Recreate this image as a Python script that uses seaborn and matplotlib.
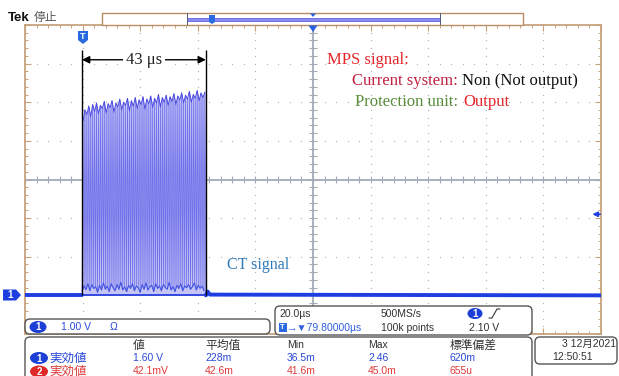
import numpy as np
import matplotlib
matplotlib.use("Agg")
import matplotlib.pyplot as plt
import seaborn as sns
from matplotlib.patches import FancyBboxPatch, Rectangle, Polygon, Ellipse
from matplotlib.transforms import Affine2D

# ---------------- data ----------------
time_per_div_us = 20.0
volts_per_div = 1.0
trigger_level_V = 2.10
burst_start_us = -80.2
burst_end_us = -37.2
burst_peaks_V = [
    4.50, 4.80, 4.68, 4.90, 4.62, 4.94, 4.76, 4.98, 4.70, 4.92, 4.84, 5.02, 4.72, 4.96, 4.86, 5.04,
    4.74, 4.98, 4.88, 5.08, 4.80, 5.00, 4.92, 5.10, 4.78, 5.04, 4.90, 5.12, 4.84, 5.06, 4.94, 5.14,
    4.82, 5.08, 4.96, 5.16, 4.86, 5.10, 4.98, 5.20, 4.88, 5.12, 5.00, 5.18, 4.92, 5.14, 5.02, 5.22,
    4.94, 5.16, 5.06, 5.24, 4.98, 5.18, 5.08, 5.28, 5.00, 5.20, 5.10, 5.30, 5.04, 5.24, 5.12, 5.26]
burst_troughs_V = [
    0.10, 0.25, 0.15, 0.30, 0.12, 0.28, 0.18, 0.22, 0.08, 0.26, 0.14, 0.32, 0.16, 0.24, 0.10, 0.30,
    0.20, 0.12, 0.28, 0.16, 0.34, 0.14, 0.22, 0.10, 0.26, 0.18, 0.30, 0.12, 0.24, 0.20, 0.08, 0.28,
    0.16, 0.32, 0.14, 0.22, 0.26, 0.10, 0.30, 0.18, 0.24, 0.12, 0.28, 0.20, 0.16, 0.34, 0.14, 0.22,
    0.10, 0.26, 0.18, 0.30, 0.12, 0.24, 0.20, 0.28, 0.16, 0.22, 0.32, 0.14, 0.26, 0.18, 0.24, 0.12]
pre_t_us = [-100.0, -80.2]
pre_v = [0.0, 0.0]
post_t_us = [-37.2, -36.6, -35.8, 100.0]
post_v = [0.0, 0.10, 0.02, 0.0]

meas_headers = ["値", "平均值", "Min", "Max", "標準偏差"]
meas_row1 = ["1.60 V", "228m", "36.5m", "2.46", "620m"]
meas_row2 = ["42.1mV", "42.6m", "41.6m", "45.0m", "655u"]

# ---------------- figure ----------------
sns.set_theme(style="white")
plt.rcParams['font.family'] = ['Liberation Sans', 'Noto Sans CJK JP', 'DejaVu Sans']
W, H = 619, 376
fig = plt.figure(figsize=(W / 100, H / 100), dpi=100)
fig.patch.set_facecolor('white')
pix = Affine2D().scale(1 / 100, -1 / 100).translate(0, H / 100) + fig.dpi_scale_trans
CJK = ['Noto Sans CJK JP', 'DejaVu Sans']
SERIF = ['Liberation Serif', 'DejaVu Serif']

ax = fig.add_axes([25 / W, 1 - 334 / H, 576 / W, 309 / H])
ax.set_facecolor('white')
xmin, xmax = -5 * time_per_div_us, 5 * time_per_div_us
ymin, ymax = -1.0, 7.0
ax.set_xlim(xmin, xmax)
ax.set_ylim(ymin, ymax)
center_y = 3.0

major_x = np.arange(xmin, xmax + 0.1, time_per_div_us)
minor_x = np.arange(xmin, xmax + 0.1, time_per_div_us / 5)
major_y = np.arange(ymin, ymax + 0.01, volts_per_div)
minor_y = np.arange(ymin, ymax + 0.01, volts_per_div / 5)

# graticule
grid_col = '#a9adb5'
for yv in major_y[1:-1]:
    if abs(yv - center_y) > 1e-6:
        ax.scatter(minor_x, np.full_like(minor_x, yv), s=0.8, color=grid_col, lw=0, zorder=1)
for xv in major_x[1:-1]:
    if abs(xv) > 1e-6:
        ax.scatter(np.full_like(minor_y, xv), minor_y, s=0.8, color=grid_col, lw=0, zorder=1)
ax.axhline(center_y, color='#a4aab8', lw=1.3, zorder=1)
ax.axvline(0, color='#a4aab8', lw=1.3, zorder=1)
ax.vlines(minor_x, center_y - 0.08, center_y + 0.08, color='#a4aab8', lw=0.8, zorder=1)
ax.hlines(minor_y, -1.3, 1.3, color='#a4aab8', lw=0.8, zorder=1)

ax.set_xticks(major_x)
ax.set_xticks(minor_x, minor=True)
ax.set_yticks(major_y)
ax.set_yticks(minor_y, minor=True)
ax.tick_params(which='both', direction='in', top=True, right=True, bottom=True, left=True,
               color='#c8a27c', labelbottom=False, labelleft=False)
ax.tick_params(which='major', length=4, width=0.8)
ax.tick_params(which='minor', length=2.5, width=0.7)
for sp in ax.spines.values():
    sp.set_color('#c8a27c')
    sp.set_linewidth(1.3)

# waveform
n = len(burst_peaks_V)
period = (burst_end_us - burst_start_us) / n
peak_t = [burst_start_us + (i + 0.5) * period for i in range(n)]
trough_t = [burst_start_us + (i + 0.05) * period for i in range(n)]
wave_t = [burst_start_us]
wave_v = [0.0]
for i in range(n):
    wave_t += [trough_t[i], peak_t[i]]
    wave_v += [burst_troughs_V[i], burst_peaks_V[i]]
wave_t.append(burst_end_us)
wave_v.append(0.0)

ax.fill_between(peak_t, 0, burst_peaks_V, color='#c4c5f6', lw=0, zorder=2)
sns.lineplot(x=wave_t, y=wave_v, ax=ax, estimator=None, sort=False,
             color='#7070ea', lw=0.55, zorder=3)
sns.lineplot(x=peak_t, y=burst_peaks_V, ax=ax, estimator=None, sort=False,
             color='#4848e0', lw=0.7, zorder=3)
sns.lineplot(x=trough_t, y=burst_troughs_V, ax=ax, estimator=None, sort=False,
             color='#4050e0', lw=0.8, zorder=3)
ax.plot([burst_start_us, burst_end_us], [0.0, 0.0], color='#3448e0', lw=1.4, zorder=3)
sns.lineplot(x=pre_t_us, y=pre_v, ax=ax, estimator=None, sort=False, color='#1e3ee2', lw=2.8, zorder=4)
sns.lineplot(x=post_t_us, y=post_v, ax=ax, estimator=None, sort=False, color='#1e3ee2', lw=2.8, zorder=4)

# 43 us annotation
ax.vlines([burst_start_us, burst_end_us], 0, 6.35, color='black', lw=1.0, zorder=5)
ax.annotate('', xy=(burst_start_us, 6.1), xytext=(burst_end_us, 6.1),
            arrowprops=dict(arrowstyle='<|-|>', color='black', lw=1.0, mutation_scale=11,
                            shrinkA=0, shrinkB=0), zorder=5)
ax.text((burst_start_us + burst_end_us) / 2, 6.1, '43 μs', ha='center', va='center',
        fontsize=12, family=SERIF, color='#222',
        bbox=dict(fc='white', ec='none', pad=2), zorder=6)

# trigger level marker (right)
ax.annotate('', xy=(xmax - 3.0, trigger_level_V), xytext=(xmax - 0.3, trigger_level_V),
            arrowprops=dict(arrowstyle='-|>', color='#1f3fe0', lw=1.3, mutation_scale=7,
                            shrinkA=0, shrinkB=0), zorder=6, annotation_clip=False)

# ---------------- texts on screen ----------------
def t(x, y, s, **kw):
    kw.setdefault('va', 'center')
    kw.setdefault('ha', 'left')
    fig.text(x, y, s, transform=pix, **kw)

t(327, 60, 'MPS signal:', fontsize=12, family=SERIF, color='#e5262b')
t(352, 81, 'Current system:', fontsize=12, family=SERIF, color='#c0203e')
t(462, 81, 'Non (Not output)', fontsize=12, family=SERIF, color='#111')
t(355, 102, 'Protection unit:', fontsize=12, family=SERIF, color='#5a8c3c')
t(463, 102, 'Output', fontsize=12, family=SERIF, color='#e5262b')
t(227, 265, 'CT signal', fontsize=11.5, family=SERIF, color='#2d78b6')

# header
t(8, 18, 'Tek', fontsize=9.5, fontweight='bold', color='#111')
t(34, 18, '停止', fontsize=8.5, family=CJK, color='#555')

# record bar
fig.add_artist(Rectangle((102, 13), 421, 12, transform=pix, fc='white', ec='#b98c62', lw=1.0))
fig.add_artist(Rectangle((187, 17.5), 253, 3, transform=pix, fc='#8a8af0', ec='#5050d8', lw=0.5))
fig.add_artist(Rectangle((186.5, 13), 1.2, 12, transform=pix, fc='#555a80', ec='none'))
fig.add_artist(Rectangle((439.5, 13), 1.2, 12, transform=pix, fc='#555a80', ec='none'))
fig.add_artist(Polygon([(310, 13.5), (316, 13.5), (313, 17)], transform=pix, fc='#2a5fe0', ec='none'))
fig.add_artist(Polygon([(209, 15), (215, 15), (215, 22), (212, 24), (209, 22)], transform=pix,
                       fc='#2a69e0', ec='none'))
# trigger position marker
fig.add_artist(Polygon([(308.5, 25.5), (317.5, 25.5), (313, 32)], transform=pix, fc='#2a5fe0', ec='none'))
# T badge
fig.add_artist(Polygon([(78, 31), (88, 31), (88, 40), (83, 44), (78, 40)], transform=pix,
                       fc='#2a69e0', ec='none'))
t(83, 36.5, 'T', ha='center', fontsize=6.5, fontweight='bold', color='white')
# channel 1 ground marker
fig.add_artist(Polygon([(3, 289.5), (16, 289.5), (21, 295), (16, 300.5), (3, 300.5)], transform=pix,
                       fc='#1e3ee2', ec='none'))
t(10, 295.5, '1', ha='center', fontsize=7, fontweight='bold', color='white')

# ---------------- bottom panels ----------------
def panel(x, y, w, h, ec='#555'):
    fig.add_artist(FancyBboxPatch((x, y), w, h, boxstyle='round,pad=0,rounding_size=5',
                                  transform=pix, fc='white', ec=ec, lw=1.0))

def badge(x, y, s, col, w=17, h=12):
    fig.add_artist(Ellipse((x, y), w, h, transform=pix, fc=col, ec='none'))
    t(x, y + 0.5, s, ha='center', fontsize=7, fontweight='bold', color='white')

blue = '#2a48d8'
red = '#e03a3a'
dark = '#333'

panel(25, 319, 245, 15)
badge(38, 327, '1', '#1c3fd6')
t(61, 327, '1.00 V', fontsize=7.5, color=blue)
t(110, 327, 'Ω', fontsize=7.5, color=blue)

panel(275, 306, 257, 29)
t(279, 314, '20.0µs', fontsize=7.5, color=dark)
t(381, 314, '500MS/s', fontsize=7.5, color=dark)
badge(475, 313.5, '1', '#1c3fd6', w=15, h=11)
fig.add_artist(plt.Line2D([489, 492, 497, 500], [318, 318, 309, 309], transform=pix,
                          color=dark, lw=0.8))
fig.add_artist(Rectangle((278.5, 323), 8, 9, transform=pix, fc='#2a69e0', ec='none'))
t(282.5, 327.8, 'T', ha='center', fontsize=5.5, fontweight='bold', color='white')
t(287, 328, '→▼79.80000µs', fontsize=7.5, color='#2f5fe0')
t(381, 328, '100k points', fontsize=7.5, color=dark)
t(469, 328, '2.10 V', fontsize=7.5, color=dark)

panel(25, 337, 507, 60)
col_x = [133, 205, 287, 368, 450]
for xh, s in zip(col_x, meas_headers):
    fam = CJK if any(ord(c) > 255 for c in s) else ['Liberation Sans']
    t(xh, 345.5, s, fontsize=8.5 if fam is CJK else 7.5, family=fam, color=dark)
badge(39, 358, '1', '#1c3fd6', w=18, h=12)
t(49, 358, '実効値', fontsize=9, family=CJK, color=blue)
for xh, s in zip(col_x, meas_row1):
    t(xh, 358, s, fontsize=7.5, color=blue)
badge(39, 371.5, '2', '#e02a2a', w=18, h=12)
t(49, 371.5, '実効値', fontsize=9, family=CJK, color=red)
for xh, s in zip(col_x, meas_row2):
    t(xh, 371.5, s, fontsize=7.5, color=red)

panel(535, 337, 82, 27)
t(616, 343.5, '3 12月2021', ha='right', fontsize=7.5, family=['Liberation Sans', 'Noto Sans CJK JP'],
  color=dark)
t(552, 357, '12:50:51', fontsize=7.5, color=dark)

fig.savefig('out.png', dpi=100, facecolor='white')
